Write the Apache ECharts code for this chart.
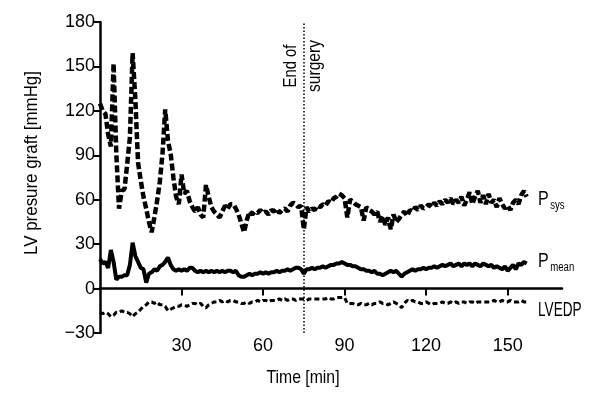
<!DOCTYPE html>
<html>
<head>
<meta charset="utf-8">
<script src="https://cdn.jsdelivr.net/npm/echarts@6/dist/echarts.min.js"></script>
<style>
  html, body { margin: 0; padding: 0; background: #fff; }
  #chart { width: 600px; height: 400px; }
</style>
</head>
<body>
<div id="chart"></div>
<script>
// one value per minute, starting at t = 0
const pSys = [
  125, 120, 118, 104, 96, 152, 91, 54, 66, 67,
  84, 102, 159, 128, 85, 73, 62, 54, 45, 38,
  48, 59, 72, 91, 121, 100, 91, 75, 62, 57,
  77, 64, 66, 59, 55, 52, 55, 50, 48, 70,
  62, 55, 52, 50, 48, 52, 56, 54, 57, 57,
  54, 50, 44, 38, 46, 52, 50, 52, 51, 53,
  51, 52, 50, 53, 52, 54, 51, 53, 54, 52,
  56, 58, 57, 55, 56, 40, 55, 52, 54, 53,
  56, 55, 57, 56, 59, 58, 61, 62, 64, 63,
  61, 48, 60, 59, 57, 56, 55, 46, 55, 53,
  52, 50, 52, 45, 49, 43, 48, 40, 50, 45,
  47, 50, 52, 49, 53, 52, 55, 53, 56, 54,
  55, 57, 55, 58, 56, 59, 57, 60, 58, 61,
  57, 60, 58, 62, 56, 60, 65, 57, 62, 66,
  58, 63, 57, 64, 58, 60, 55, 61, 57, 54,
  56, 53, 58, 60, 57, 63, 66, 62
];
const pMean = [
  20, 17, 18, 14, 26, 18, 6, 8, 8, 9,
  9, 16, 31, 22, 18, 14, 13, 4, 10, 11,
  13, 12, 15, 16, 18, 21, 16, 13, 12, 13,
  12, 13, 12, 14, 14, 12, 11, 12, 11, 12,
  11, 12, 11, 12, 11, 12, 11, 12, 12, 11,
  12, 9, 8, 8, 9, 10, 9, 10, 10, 11,
  10, 11, 10, 11, 11, 12, 11, 12, 12, 13,
  12, 13, 14, 14, 13, 10, 13, 13, 14, 13,
  14, 14, 15, 14, 15, 16, 16, 17, 17, 18,
  17, 16, 16, 15, 15, 14, 13, 13, 12, 12,
  11, 12, 10, 10, 9, 10, 11, 12, 11, 12,
  10, 8, 10, 11, 12, 13, 12, 13, 13, 14,
  13, 14, 14, 15, 14, 15, 16, 15, 16, 17,
  15, 16, 17, 15, 17, 16, 17, 15, 17, 16,
  15, 17, 16, 15, 16, 14, 15, 14, 13, 15,
  12, 14, 16, 13, 17, 16, 18, 17
];
const lvedp = [
  -16, -17, -16, -17, -19, -18, -16, -16, -15, -16,
  -16, -17, -19, -17, -16, -14, -12, -11, -9, -9,
  -10, -9, -11, -11, -12, -15, -14, -13, -12, -12,
  -11, -11, -12, -11, -10, -10, -11, -10, -12, -13,
  -11, -10, -9, -9, -8, -9, -8, -9, -8, -8,
  -9, -9, -10, -10, -9, -10, -9, -9, -8, -9,
  -8, -8, -9, -8, -8, -8, -7, -8, -7, -8,
  -7, -7, -8, -7, -7, -7, -8, -7, -7, -7,
  -7, -7, -7, -7, -6, -7, -7, -6, -6, -6,
  -6, -10, -10, -10, -11, -11, -10, -11, -11, -10,
  -11, -10, -10, -9, -10, -10, -11, -10, -9, -10,
  -11, -13, -10, -8, -9, -8, -9, -9, -10, -10,
  -9, -10, -11, -10, -10, -10, -9, -10, -10, -9,
  -10, -9, -10, -9, -9, -10, -9, -9, -10, -9,
  -9, -9, -9, -9, -9, -8, -9, -9, -8, -9,
  -9, -8, -9, -9, -9, -8, -9, -9
];
const xTicks = [30, 60, 90, 120, 150];
const endOfSurgery = 75;

const font = "'Liberation Sans', sans-serif";
const toPairs = arr => arr.map((v, i) => [i, v]);

// narrow text, the original uses a condensed face
function label(x, y, text, sx, rotate) {
  return {
    type: 'text', x: x, y: y, scaleX: sx, rotation: rotate ? Math.PI / 2 : 0,
    style: { text: text, fill: '#000', font: '19px ' + font, align: 'center', verticalAlign: 'middle' }
  };
}
function subLabel(x, y, main, sub) {
  return {
    type: 'text', x: x, y: y, scaleX: 0.8,
    style: {
      text: '{p|' + main + '}{s|' + sub + '}',
      verticalAlign: 'middle',
      rich: {
        p: { fill: '#000', fontSize: 20, fontFamily: font },
        s: { fill: '#000', fontSize: 12, fontFamily: font, padding: [14, 0, 0, 2] }
      }
    }
  };
}

const chart = echarts.init(document.getElementById('chart'));
chart.setOption({
  animation: false,
  grid: { left: 100, right: 38, top: 22, bottom: 67 },
  xAxis: {
    type: 'value',
    min: 0,
    max: 170,
    splitLine: { show: false },
    axisLine: { onZero: true, lineStyle: { color: '#000', width: 2.5 } },
    axisTick: { show: true, length: 7, customValues: xTicks, lineStyle: { color: '#000', width: 2 } },
    axisLabel: {
      margin: 4,
      color: '#000',
      fontSize: 18,
      fontFamily: font,
      customValues: xTicks
    }
  },
  yAxis: {
    type: 'value',
    min: -30,
    max: 180,
    interval: 30,
    splitLine: { show: false },
    axisLine: { show: true, onZero: false, lineStyle: { color: '#000', width: 2.5 } },
    axisTick: { show: true, length: 7, lineStyle: { color: '#000', width: 2 } },
    axisLabel: {
      margin: 5,
      color: '#000',
      fontSize: 18,
      fontFamily: font,
      formatter: v => (v < 0 ? '\u2212' + Math.abs(v) : String(v))
    }
  },
  series: [
    {
      name: 'Psys',
      type: 'line',
      data: toPairs(pSys),
      symbol: 'none',
      lineStyle: { color: '#000', width: 4.5, type: [7, 3] },
      markLine: {
        silent: true,
        symbol: 'none',
        label: { show: false },
        lineStyle: { color: '#000', width: 1.5, type: [1.5, 2] },
        data: [{ xAxis: endOfSurgery }]
      }
    },
    {
      name: 'Pmean',
      type: 'line',
      data: toPairs(pMean),
      symbol: 'none',
      lineStyle: { color: '#000', width: 4 }
    },
    {
      name: 'LVEDP',
      type: 'line',
      data: toPairs(lvedp),
      symbol: 'none',
      lineStyle: { color: '#000', width: 3, type: [5, 3] }
    }
  ],
  graphic: [
    label(32, 163, 'LV presure graft [mmHg]', 0.89, true),
    label(303, 378, 'Time [min]', 0.83, false),
    label(291, 66, 'End of', 0.78, true),
    label(315, 66, 'surgery', 0.82, true),
    subLabel(538, 199, 'P', 'sys'),
    subLabel(538, 261, 'P', 'mean'),
    {
      type: 'text', x: 538, y: 310, scaleX: 0.68,
      style: { text: 'LVEDP', fill: '#000', font: '20px ' + font, verticalAlign: 'middle' }
    }
  ]
});
</script>
</body>
</html>
